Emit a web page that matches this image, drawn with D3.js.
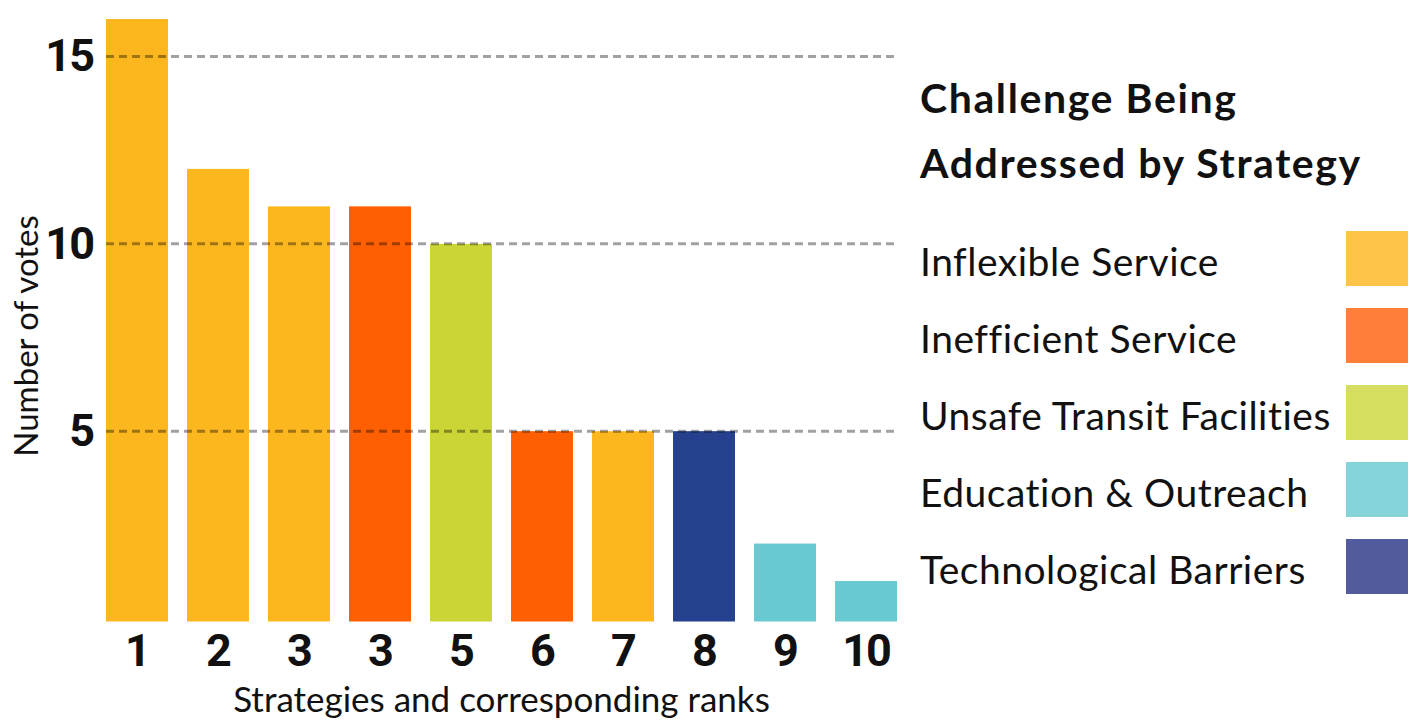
<!DOCTYPE html>
<html lang="en">
<head>
  <meta charset="UTF-8" />
  <title>Strategy votes</title>
  <script src="https://cdn.jsdelivr.net/npm/d3@7/dist/d3.min.js"></script>
  <style>
    html, body { margin: 0; padding: 0; background: #fff; }
    #viz { width: 1418px; height: 721px; }
  </style>
</head>
<body>
  <div id="viz"></div>

  <script>
  // data
  const rankLabels = ['1', '2', '3', '3', '5', '6', '7', '8', '9', '10'];
  const votes      = [16, 12, 11, 11, 10, 5, 5, 5, 2, 1];
  const challenge  = [
    'Inflexible Service', 'Inflexible Service', 'Inflexible Service',
    'Inefficient Service', 'Unsafe Transit Facilities', 'Inefficient Service',
    'Inflexible Service', 'Technological Barriers',
    'Education & Outreach', 'Education & Outreach'
  ];
  const challenges  = ['Inflexible Service', 'Inefficient Service', 'Unsafe Transit Facilities',
                       'Education & Outreach', 'Technological Barriers'];
  const barColors   = ['#fdb71e', '#ff5f03', '#cbd636', '#69c9d1', '#25408d'];
  const swatchColors = ['#fdc548', '#ff7f38', '#d5de5e', '#85d4da', '#525b9e'];
  const yTicks = [5, 10, 15];

  function drawViz() {
    const W = 1418, H = 721;
    const left = 106, right = 897, base = 621.5;
    const numFont = 'Roboto, sans-serif';

    const svg = d3.select('#viz').append('svg')
      .attr('width', W).attr('height', H);

    const x = d3.scaleBand()
      .domain(d3.range(votes.length))
      .range([left, right])
      .paddingInner(0.235)
      .paddingOuter(0);
    const y = d3.scaleLinear()
      .domain([0, 15])
      .range([618.5, 56.5]);
    const color = d3.scaleOrdinal().domain(challenges).range(barColors);

    // bars
    svg.append('g').selectAll('rect')
      .data(votes)
      .join('rect')
        .attr('x', (d, i) => x(i))
        .attr('y', d => y(d))
        .attr('width', x.bandwidth())
        .attr('height', d => base - y(d))
        .attr('fill', (d, i) => color(challenge[i]));

    // dashed grid on top of the bars
    svg.append('g').selectAll('line')
      .data(yTicks)
      .join('line')
        .attr('x1', left).attr('x2', right)
        .attr('y1', d => y(d)).attr('y2', d => y(d))
        .attr('stroke', '#000')
        .attr('stroke-opacity', 0.37)
        .attr('stroke-width', 3)
        .attr('stroke-dasharray', '8 5');

    // y axis
    const yAxis = svg.append('g')
      .attr('transform', `translate(${left},0)`)
      .call(d3.axisLeft(y).tickValues(yTicks).tickSize(0).tickPadding(13));
    yAxis.select('.domain').remove();
    yAxis.selectAll('text')
      .attr('font-family', numFont)
      .attr('font-weight', 700)
      .attr('font-size', 45)
      .attr('letter-spacing', -2)
      .attr('fill', '#111');

    // x axis
    const xAxis = svg.append('g')
      .attr('transform', `translate(0,${base})`)
      .call(d3.axisBottom(x).tickSize(0).tickPadding(13).tickFormat(i => rankLabels[i]));
    xAxis.select('.domain').remove();
    xAxis.selectAll('text')
      .attr('font-family', numFont)
      .attr('font-weight', 700)
      .attr('font-size', 45)
      .attr('letter-spacing', -2)
      .attr('fill', '#111');

    // axis titles
    svg.append('text')
      .attr('x', (left + right) / 2)
      .attr('y', 712)
      .attr('text-anchor', 'middle')
      .attr('font-family', 'Lato, sans-serif')
      .attr('font-size', 35)
      .attr('fill', '#111')
      .text('Strategies and corresponding ranks');

    svg.append('text')
      .attr('transform', 'translate(38,336) rotate(-90)')
      .attr('text-anchor', 'middle')
      .attr('font-family', 'Lato, sans-serif')
      .attr('font-size', 33)
      .attr('fill', '#111')
      .text('Number of votes');

    // legend
    const legend = svg.append('g');
    legend.selectAll('text.title')
      .data(['Challenge Being', 'Addressed by Strategy'])
      .join('text')
        .attr('class', 'title')
        .attr('x', 920)
        .attr('y', (d, i) => 113 + i * 65)
        .attr('font-family', 'Lato, sans-serif')
        .attr('font-weight', 700)
        .attr('font-size', 41)
        .attr('letter-spacing', 1.6)
        .attr('fill', '#111')
        .text(d => d);

    const item = legend.selectAll('g.item')
      .data(challenges)
      .join('g')
        .attr('class', 'item')
        .attr('transform', (d, i) => `translate(0,${i * 77})`);
    item.append('text')
      .attr('x', 920)
      .attr('y', 276)
      .attr('font-family', 'Lato, sans-serif')
      .attr('font-size', 39)
      .attr('letter-spacing', 0.5)
      .attr('fill', '#111')
      .text(d => d);
    item.append('rect')
      .attr('x', 1346)
      .attr('y', 231)
      .attr('width', 62)
      .attr('height', 55)
      .attr('fill', (d, i) => swatchColors[i]);
  }

  document.addEventListener('DOMContentLoaded', drawViz);
  </script>
</body>
</html>
